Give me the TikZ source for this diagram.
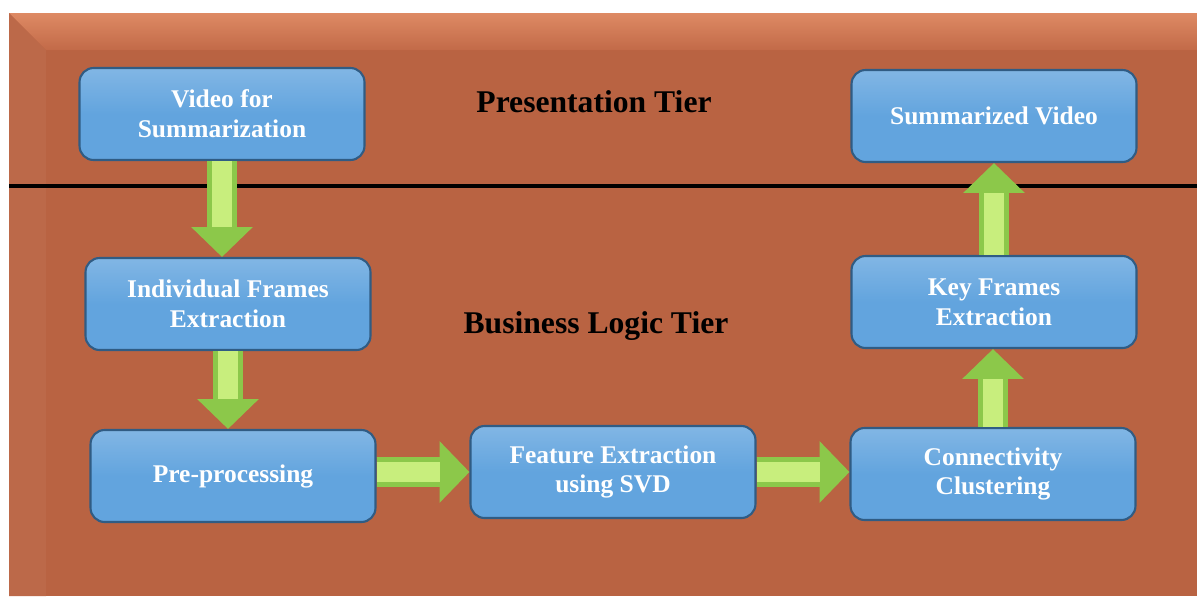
\documentclass[tikz,border=0pt]{standalone}
\usepackage{fontspec}
\setmainfont{Liberation Serif}
\usetikzlibrary{arrows.meta}
\definecolor{tierbrown}{RGB}{185,99,66}
\definecolor{bevellight}{RGB}{222,138,100}
\definecolor{bevelmid}{RGB}{194,106,72}
\definecolor{boxblue}{RGB}{98,164,222}
\definecolor{boxedge}{RGB}{48,92,132}
\definecolor{flowgreen}{RGB}{140,200,74}
\definecolor{flowlight}{RGB}{200,238,125}
\tikzset{stage/.style = {rectangle, rounded corners=8pt, draw=boxedge, line width=1.2pt,
                         top color=boxblue!80!white, bottom color=boxblue, middle color=boxblue,
                         text=white, align=center, inner sep=0,
                         font=\fontsize{14.5}{17}\selectfont\bfseries,
                         minimum width=5.7cm, minimum height=1.84cm}}
\tikzset{tier/.style = {font=\fontsize{18}{21}\selectfont\bfseries}}
\tikzset{flow/.style = {line width=17pt, flowgreen,
                        -{Triangle[width=34pt, length=17pt]},
                        postaction={draw=flowlight, line width=11pt, shorten >=17pt, -}}}

\begin{document}
\begin{tikzpicture}[x=0.02cm, y=-0.02cm]
  \useasboundingbox (0,0) rectangle (1197,596);
  % background panel
  \fill [tierbrown] (9,13) rectangle (1197,596);
  \shade [top color=bevellight, bottom color=bevelmid] (9,13) -- (1197,13) -- (1197,50) -- (46,50) -- cycle;
  \fill [tierbrown!96!white] (9,13) -- (46,50) -- (46,596) -- (9,596) -- cycle;
  \draw [line width=2.4pt] (9,186) -- (1197,186);

  \node [tier] (pres) at (594,102) {Presentation Tier};
  \node [tier] (logic) at (596,326) {Business Logic Tier};

  \node [stage] (video) at (222,114) {Video for\\Summarization};
  \node [stage] (frames) at (228,304) {Individual Frames\\Extraction};
  \node [stage] (pre) at (233,476) {Pre-processing};
  \node [stage] (svd) at (613,472) {Feature Extraction\\using SVD};
  \node [stage] (clust) at (993,474) {Connectivity\\Clustering};
  \node [stage] (key) at (994,302) {Key Frames\\Extraction};
  \node [stage] (summ) at (994,116) {Summarized Video};

  \draw [flow] (video.south) -- (video.south |- frames.north);
  \draw [flow] (frames.south) -- (frames.south |- pre.north);
  \draw [flow] (pre.east |- svd.west) -- (svd.west);
  \draw [flow] (svd.east) -- (svd.east -| clust.west);
  \draw [flow] (clust.north) -- (clust.north |- key.south);
  \draw [flow] (key.north) -- (key.north |- summ.south);
\end{tikzpicture}
\end{document}
